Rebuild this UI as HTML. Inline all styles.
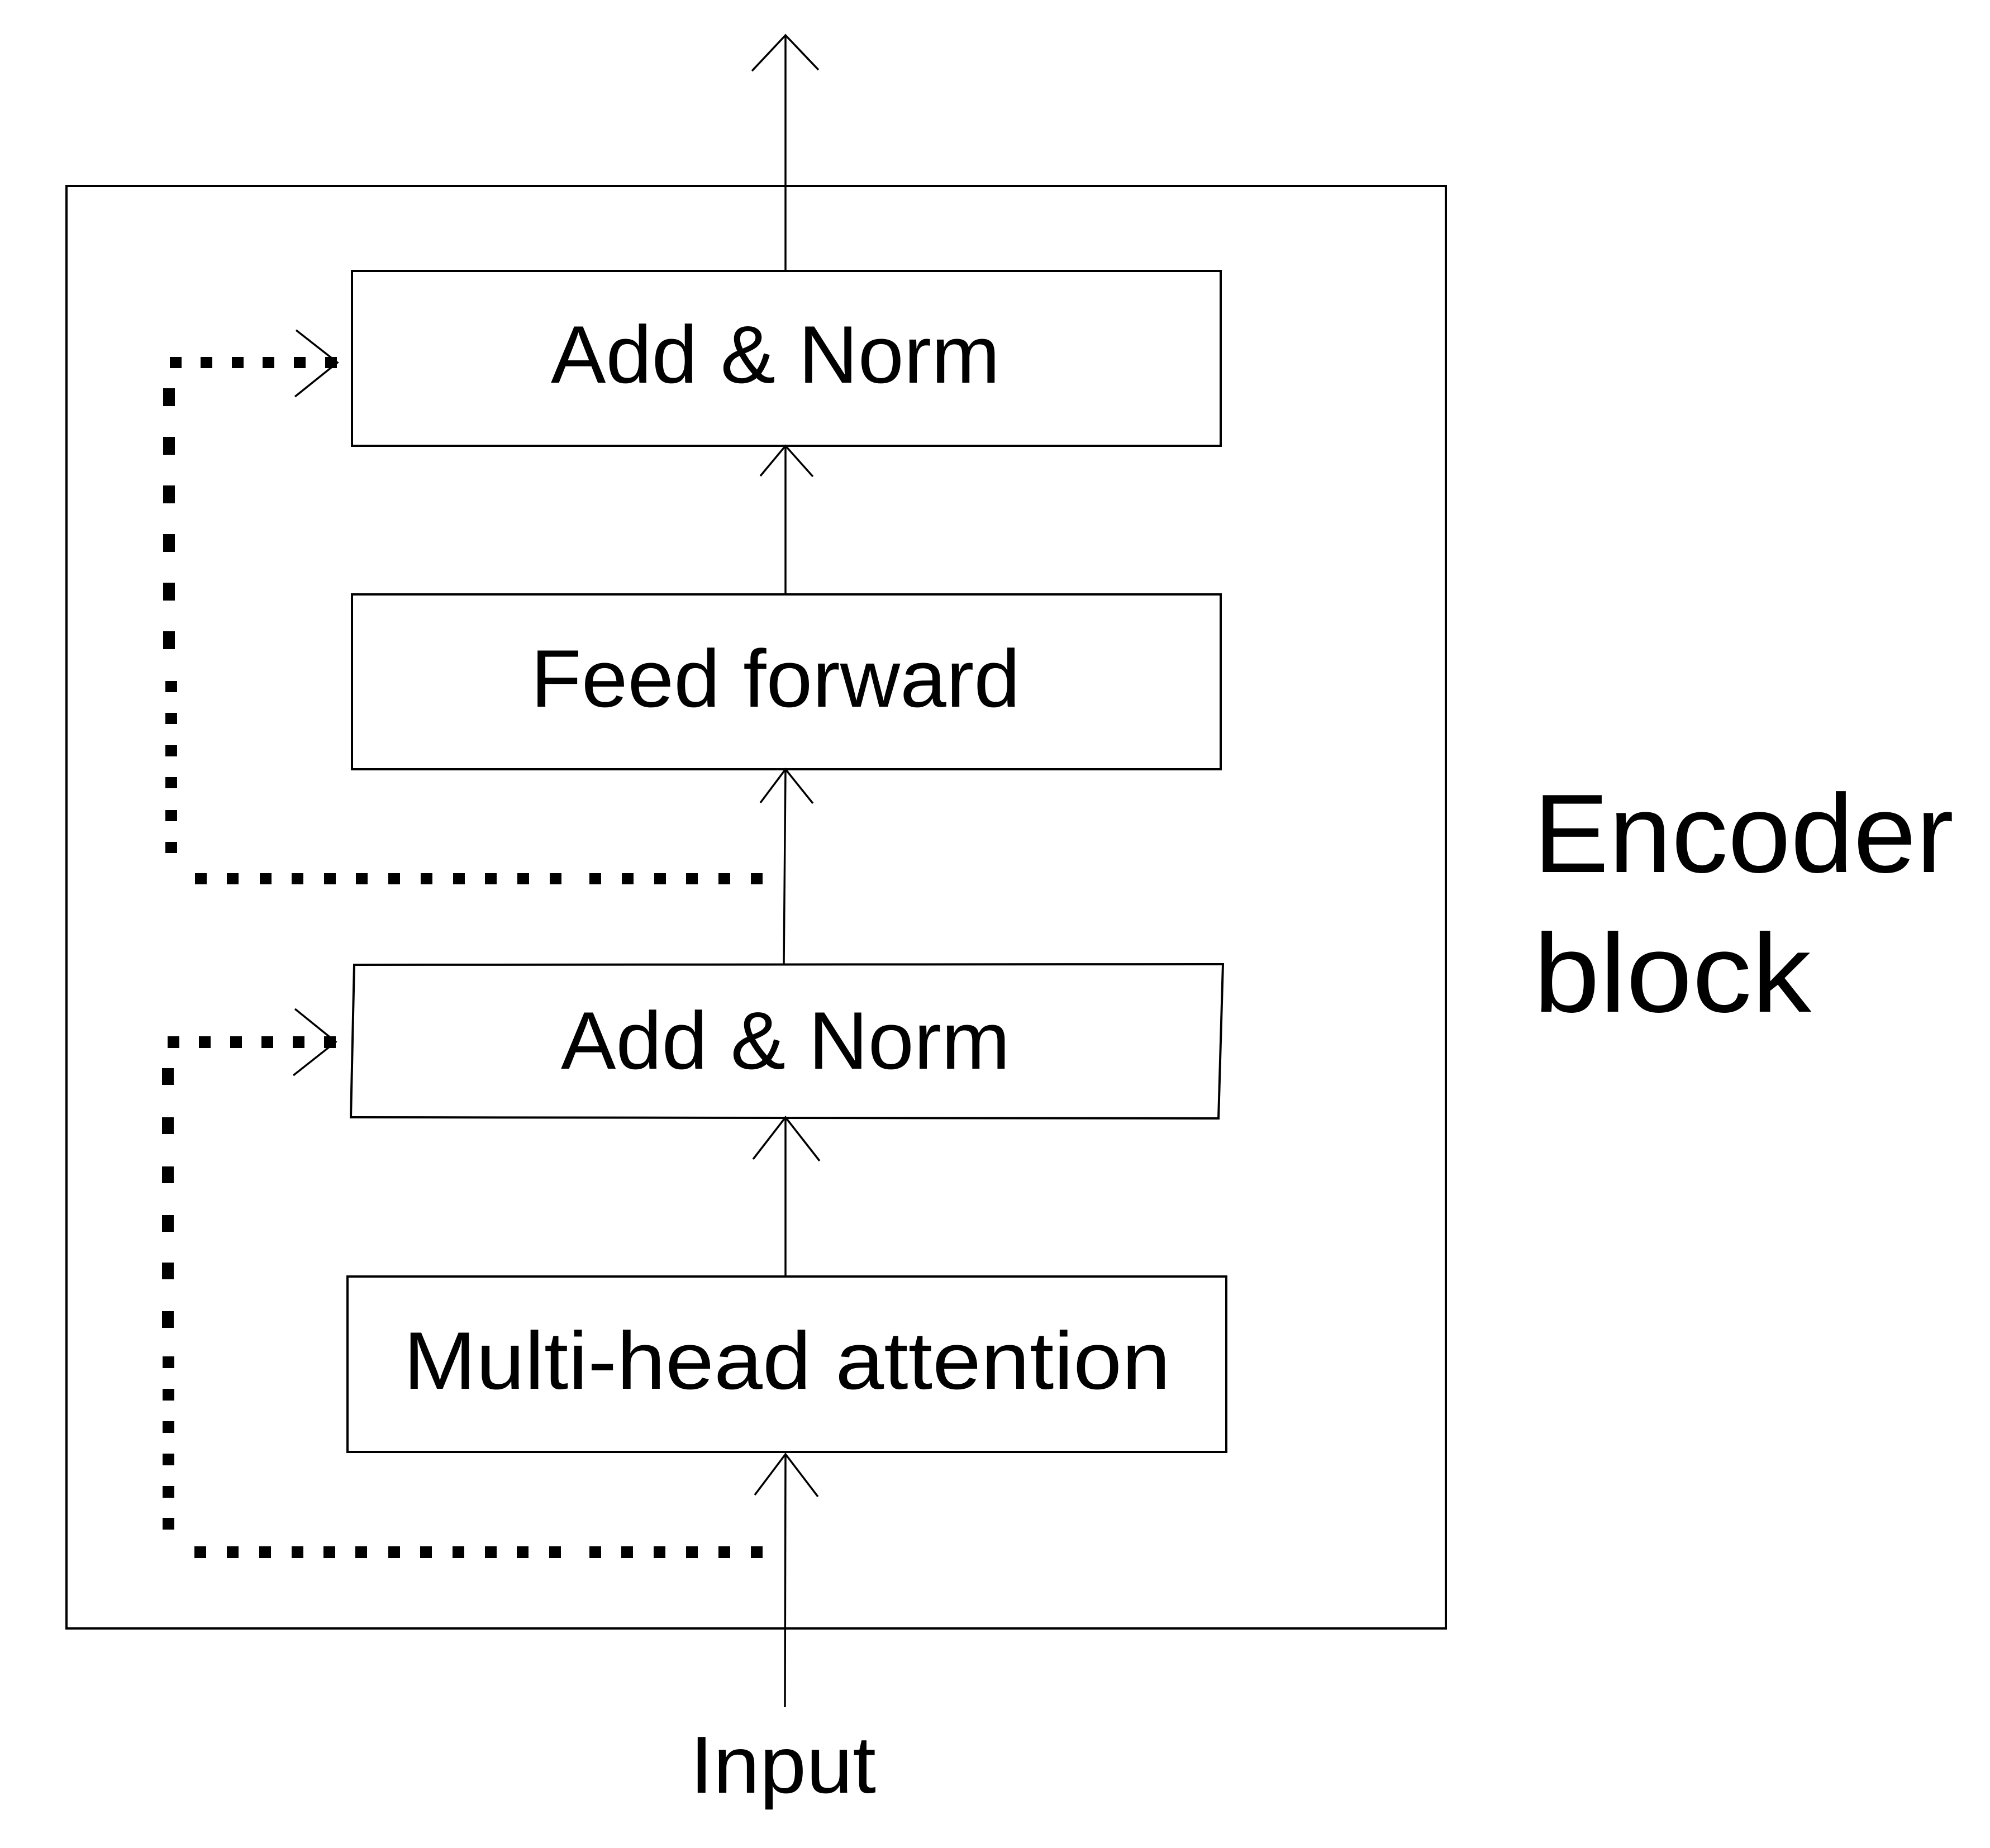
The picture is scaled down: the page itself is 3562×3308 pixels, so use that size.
<!DOCTYPE html>
<html><head><meta charset="utf-8"><style>html,body{margin:0;padding:0;background:#fff}svg{display:block}</style></head>
<body>
<svg width="3562" height="3308" viewBox="0 0 3562 3308" xmlns="http://www.w3.org/2000/svg">
<rect width="3562" height="3308" fill="#fff"/>
<g fill="none" stroke="#000" stroke-width="4">
<rect x="119" y="333" width="2469" height="2582"/>
<rect x="630" y="485" width="1555" height="313"/>
<rect x="630" y="1064" width="1555" height="313"/>
<polygon points="634,1727 2189,1726 2181,2002 628,2000"/>
<rect x="622" y="2285" width="1573" height="314"/>
</g>
<g fill="none" stroke="#000" stroke-width="3.5">
<line x1="1406" y1="485" x2="1406" y2="63"/><polyline points="1346,127 1406,63 1465,125"/>
<line x1="1406" y1="1064" x2="1406" y2="798"/><polyline points="1361,852 1406,798 1455,853"/>
<line x1="1403" y1="1727" x2="1406" y2="1377"/><polyline points="1361,1437 1406,1377 1455,1438"/>
<line x1="1406" y1="2285" x2="1406" y2="2000"/><polyline points="1348,2075 1406,2000 1467,2078"/>
<line x1="1405" y1="3056" x2="1406" y2="2603"/><polyline points="1351,2676 1406,2603 1464,2679"/>
<polyline points="530,591 604,649 528,710"/>
<polyline points="528,1806 601,1865 525,1925"/>
</g>
<g fill="#000">
<rect x="304" y="639" width="21" height="20"/><rect x="359" y="639" width="21" height="20"/><rect x="415" y="639" width="21" height="20"/><rect x="470" y="639" width="21" height="20"/><rect x="526" y="639" width="21" height="20"/><rect x="582" y="639" width="21" height="20"/>
<rect x="292" y="695" width="21" height="32"/><rect x="292" y="782" width="21" height="32"/><rect x="292" y="869" width="21" height="32"/><rect x="292" y="956" width="21" height="32"/><rect x="292" y="1043" width="21" height="32"/><rect x="292" y="1130" width="21" height="32"/>
<rect x="296" y="1219" width="21" height="20"/><rect x="296" y="1276" width="21" height="20"/><rect x="296" y="1334" width="21" height="20"/><rect x="296" y="1391" width="21" height="20"/><rect x="296" y="1450" width="21" height="20"/><rect x="296" y="1507" width="21" height="20"/>
<rect x="349" y="1563" width="21" height="20"/><rect x="406" y="1563" width="21" height="20"/><rect x="465" y="1563" width="21" height="20"/><rect x="522" y="1563" width="21" height="20"/><rect x="580" y="1563" width="21" height="20"/><rect x="637" y="1563" width="21" height="20"/><rect x="695" y="1563" width="21" height="20"/><rect x="753" y="1563" width="21" height="20"/><rect x="811" y="1563" width="21" height="20"/><rect x="868" y="1563" width="21" height="20"/><rect x="926" y="1563" width="21" height="20"/><rect x="984" y="1563" width="21" height="20"/><rect x="1055" y="1563" width="21" height="20"/><rect x="1113" y="1563" width="21" height="20"/><rect x="1171" y="1563" width="21" height="20"/><rect x="1228" y="1563" width="21" height="20"/><rect x="1286" y="1563" width="21" height="20"/><rect x="1344" y="1563" width="21" height="20"/>
<rect x="300" y="1855" width="21" height="21"/><rect x="356" y="1855" width="21" height="21"/><rect x="412" y="1855" width="21" height="21"/><rect x="468" y="1855" width="21" height="21"/><rect x="524" y="1855" width="21" height="21"/><rect x="580" y="1855" width="21" height="21"/>
<rect x="290" y="1912" width="21" height="30"/><rect x="290" y="2000" width="21" height="30"/><rect x="290" y="2088" width="21" height="30"/><rect x="290" y="2175" width="21" height="30"/><rect x="290" y="2260" width="21" height="30"/><rect x="290" y="2347" width="21" height="30"/>
<rect x="291" y="2428" width="21" height="21"/><rect x="291" y="2486" width="21" height="21"/><rect x="291" y="2544" width="21" height="21"/><rect x="291" y="2602" width="21" height="21"/><rect x="291" y="2660" width="21" height="21"/><rect x="291" y="2717" width="21" height="21"/>
<rect x="348" y="2768" width="21" height="21"/><rect x="406" y="2768" width="21" height="21"/><rect x="464" y="2768" width="21" height="21"/><rect x="522" y="2768" width="21" height="21"/><rect x="579" y="2768" width="21" height="21"/><rect x="636" y="2768" width="21" height="21"/><rect x="695" y="2768" width="21" height="21"/><rect x="752" y="2768" width="21" height="21"/><rect x="810" y="2768" width="21" height="21"/><rect x="868" y="2768" width="21" height="21"/><rect x="925" y="2768" width="21" height="21"/><rect x="983" y="2768" width="21" height="21"/><rect x="1055" y="2768" width="21" height="21"/><rect x="1112" y="2768" width="21" height="21"/><rect x="1170" y="2768" width="21" height="21"/><rect x="1228" y="2768" width="21" height="21"/><rect x="1286" y="2768" width="21" height="21"/><rect x="1344" y="2768" width="21" height="21"/>
</g>
<g font-family="Liberation Sans, sans-serif" fill="#000">
<text x="986" y="685" font-size="146" textLength="804" lengthAdjust="spacingAndGlyphs">Add &amp; Norm</text>
<text x="950" y="1265" font-size="146" textLength="876" lengthAdjust="spacingAndGlyphs">Feed forward</text>
<text x="1004" y="1913" font-size="146" textLength="804" lengthAdjust="spacingAndGlyphs">Add &amp; Norm</text>
<text x="722" y="2486" font-size="146" textLength="1373" lengthAdjust="spacingAndGlyphs">Multi-head attention</text>
<text x="1235" y="3209" font-size="145" textLength="333" lengthAdjust="spacingAndGlyphs">Input</text>
<text x="2745" y="1561" font-size="200" textLength="752" lengthAdjust="spacingAndGlyphs">Encoder</text>
<text x="2745" y="1811" font-size="200" textLength="497" lengthAdjust="spacingAndGlyphs">block</text>
</g>
</svg>
</body></html>
